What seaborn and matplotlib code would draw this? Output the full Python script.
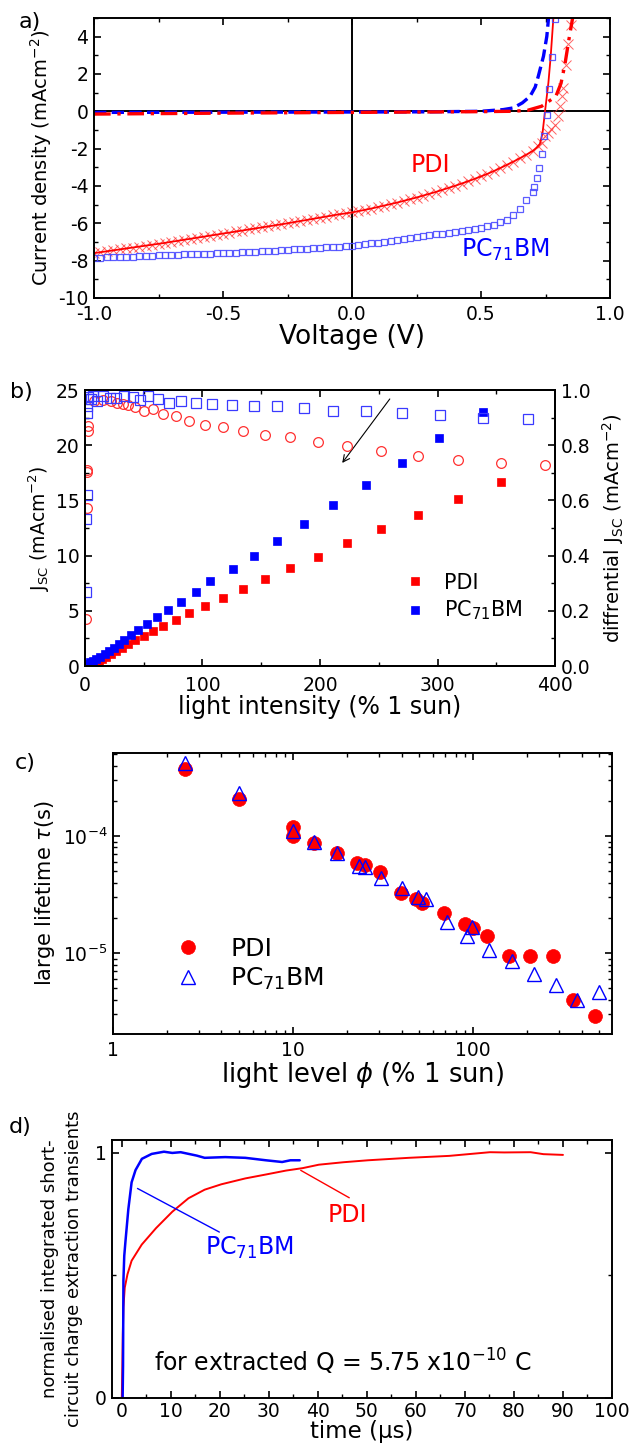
import numpy as np
import pandas as pd
import matplotlib
matplotlib.use("Agg")
import matplotlib.pyplot as plt
import seaborn as sns
from matplotlib.ticker import MultipleLocator, FixedLocator, NullFormatter, FuncFormatter, LogLocator

# ---------------- panel a data ----------------
volt = [-1.000, -0.975, -0.950, -0.925, -0.900, -0.875, -0.850, -0.825, -0.800, -0.775,
        -0.750, -0.725, -0.700, -0.675, -0.650, -0.625, -0.600, -0.575, -0.550, -0.525,
        -0.500, -0.475, -0.450, -0.425, -0.400, -0.375, -0.350, -0.325, -0.300, -0.275,
        -0.250, -0.225, -0.200, -0.175, -0.150, -0.125, -0.100, -0.075, -0.050, -0.025,
        0.000, 0.025, 0.050, 0.075, 0.100, 0.125, 0.150, 0.175, 0.200, 0.225,
        0.250, 0.275, 0.300, 0.325, 0.350, 0.375, 0.400, 0.425, 0.450, 0.475,
        0.500, 0.525, 0.550, 0.575, 0.600, 0.625, 0.650, 0.675, 0.700]
pdi_light = [-7.60, -7.55, -7.50, -7.45, -7.40, -7.35, -7.30, -7.25, -7.20, -7.15,
             -7.10, -7.05, -6.99, -6.94, -6.88, -6.83, -6.77, -6.72, -6.66, -6.61,
             -6.55, -6.50, -6.44, -6.39, -6.33, -6.28, -6.22, -6.17, -6.11, -6.06,
             -6.00, -5.94, -5.88, -5.82, -5.76, -5.70, -5.64, -5.58, -5.52, -5.47,
             -5.42, -5.35, -5.28, -5.21, -5.13, -5.05, -4.97, -4.89, -4.80, -4.71,
             -4.62, -4.52, -4.42, -4.32, -4.21, -4.10, -3.99, -3.87, -3.75, -3.62,
             -3.49, -3.35, -3.20, -3.04, -2.87, -2.70, -2.52, -2.33, -2.13]
pdi_steep_v = [0.720, 0.735, 0.748, 0.760, 0.772, 0.787, 0.800, 0.806, 0.812, 0.819, 0.829, 0.838, 0.848]
pdi_steep_j = [-1.88, -1.70, -1.34, -1.15, -0.95, -0.71, -0.27, 0.27, 0.80, 1.25, 2.50, 3.58, 4.60]
pdi_line_v = [0.715, 0.728, 0.738, 0.748, 0.761, 0.770, 0.780, 0.784]
pdi_line_j = [-1.95, -1.75, -1.20, 0.00, 1.52, 2.95, 4.92, 5.60]
pc_light = [-7.85, -7.84, -7.83, -7.82, -7.81, -7.80, -7.79, -7.77, -7.76, -7.74,
            -7.72, -7.71, -7.70, -7.68, -7.67, -7.66, -7.65, -7.63, -7.62, -7.61,
            -7.60, -7.58, -7.57, -7.55, -7.53, -7.52, -7.50, -7.48, -7.46, -7.44,
            -7.42, -7.40, -7.38, -7.36, -7.34, -7.32, -7.29, -7.27, -7.25, -7.22,
            -7.20, -7.16, -7.12, -7.08, -7.04, -7.00, -6.95, -6.90, -6.85, -6.80,
            -6.75, -6.70, -6.65, -6.60, -6.55, -6.50, -6.45, -6.40, -6.35, -6.30,
            -6.24, -6.16, -6.07, -5.95, -5.80, -5.58, -5.22, -4.75, -4.30]
pc_steep_v = [0.705, 0.716, 0.725, 0.735, 0.744, 0.755, 0.764, 0.774, 0.787]
pc_steep_j = [-4.07, -3.60, -3.03, -2.28, -1.32, -0.19, 1.22, 2.91, 4.95]
pc_dark_v = [-1.0, -0.5, 0.0, 0.3, 0.5, 0.586, 0.625, 0.66, 0.690, 0.710, 0.722, 0.742, 0.755, 0.761, 0.766]
pc_dark_j = [-0.06, -0.05, -0.04, -0.03, 0.00, 0.09, 0.18, 0.45, 0.80, 1.30, 1.88, 2.95, 4.02, 4.91, 5.50]
pdi_dark_v = [-1.0, -0.8, -0.5, 0.0, 0.5, 0.62, 0.68, 0.735, 0.790, 0.810, 0.825, 0.840, 0.855, 0.860]
pdi_dark_j = [-0.15, -0.13, -0.10, -0.06, -0.02, 0.00, 0.05, 0.27, 0.80, 1.50, 2.50, 3.80, 5.00, 5.50]

# ---------------- panel b data ----------------
pdi_int = [354.3, 317.2, 283.3, 252.1, 223.4, 198.1, 174.2, 153.4, 134.4, 117.1, 102.5, 88.7, 77.2,
           66.8, 58.2, 50.2, 42.6, 36.7, 31.2, 26.3, 22.0, 18.0, 14.7, 11.7, 9.2, 7.0]
pdi_jsc = [16.68, 15.17, 13.73, 12.41, 11.12, 9.92, 8.86, 7.87, 7.00, 6.16, 5.45, 4.78, 4.18,
           3.63, 3.17, 2.73, 2.36, 2.00, 1.67, 1.37, 1.08, 0.84, 0.63, 0.45, 0.30, 0.15]
pc_int = [338.7, 301.6, 269.4, 239.0, 211.3, 186.0, 163.8, 143.7, 125.7, 106.5, 94.5, 81.5, 70.7,
          61.0, 52.9, 45.3, 38.9, 33.3, 28.6, 24.4, 20.3, 16.7, 13.1, 9.7, 6.9, 4.2, 1.9]
pc_jsc = [23.00, 20.62, 18.39, 16.44, 14.57, 12.86, 11.36, 9.98, 8.77, 7.67, 6.72, 5.83, 5.10,
          4.45, 3.83, 3.25, 2.80, 2.35, 1.99, 1.66, 1.36, 1.08, 0.84, 0.63, 0.48, 0.33, 0.18]
pdi_dint = [1.0, 1.3, 1.6, 1.8, 2.2, 2.8, 8.0, 15.0, 22.0, 27.0, 32.2, 36.7, 42.6, 50.2, 58.2, 66.8,
            77.2, 88.7, 102.5, 117.1, 134.4, 153.4, 174.2, 198.1, 223.4, 252.1, 283.3, 317.2, 354.3, 391.7]
pdi_diff = [0.172, 0.572, 0.703, 0.710, 0.852, 0.870, 0.960, 0.965, 0.960, 0.955, 0.950, 0.945, 0.938,
            0.925, 0.931, 0.913, 0.905, 0.889, 0.875, 0.868, 0.851, 0.838, 0.829, 0.811, 0.796, 0.779,
            0.763, 0.748, 0.736, 0.730]
pc_dint = [1.0, 1.2, 1.4, 1.6, 1.9, 2.3, 2.8, 5.0, 7.0, 9.9, 15.5, 21.0, 26.8, 33.0, 40.8, 46.5, 53.5,
           62.0, 71.8, 81.7, 94.4, 108.0, 125.0, 143.7, 163.8, 186.0, 211.3, 239.0, 269.5, 302.1, 339.0, 376.8]
pc_diff = [0.268, 0.532, 0.619, 0.916, 0.943, 0.967, 0.975, 0.968, 0.978, 0.960, 0.978, 0.972, 0.972,
           0.978, 0.975, 0.963, 0.978, 0.966, 0.954, 0.960, 0.954, 0.950, 0.946, 0.942, 0.941, 0.934,
           0.925, 0.923, 0.918, 0.909, 0.898, 0.897]

# ---------------- panel c data ----------------
pdi_phi = [2.5, 5.0, 10.0, 10.0, 13.1, 17.5, 22.6, 25.2, 30.2, 39.8, 48.3, 52.1, 68.7, 90.1, 100.0,
           120.0, 158.0, 207.0, 276.0, 358.0, 477.0]
pdi_tau = [3.73e-4, 2.07e-4, 1.20e-4, 1.00e-4, 8.66e-5, 7.20e-5, 5.93e-5, 5.66e-5, 4.90e-5, 3.29e-5,
           2.90e-5, 2.67e-5, 2.19e-5, 1.77e-5, 1.63e-5, 1.41e-5, 9.5e-6, 9.5e-6, 9.5e-6, 4.0e-6, 2.88e-6]
pc_phi = [2.5, 5.0, 10.0, 13.1, 17.5, 23.1, 25.2, 30.6, 40.2, 49.6, 54.4, 71.3, 92.4, 98.6, 123.0,
          164.0, 218.0, 290.0, 377.0, 502.0]
pc_tau = [4.24e-4, 2.34e-4, 1.11e-4, 8.95e-5, 7.20e-5, 5.58e-5, 5.48e-5, 4.35e-5, 3.58e-5, 3.04e-5,
          2.88e-5, 1.86e-5, 1.41e-5, 1.69e-5, 1.07e-5, 8.5e-6, 6.62e-6, 5.37e-6, 4.0e-6, 4.66e-6]

# ---------------- panel d data ----------------
pdi_t = [0.0, 0.1, 0.2, 0.33, 0.6, 1.16, 2.0, 4.07, 6.98, 10.3, 13.6, 16.9, 20.3, 25.2, 29.4, 33.5,
         36.9, 40.2, 45.2, 50.2, 58.5, 66.8, 75.1, 78.0, 83.4, 86.0, 90.0]
pdi_q = [0.0, 0.12, 0.26, 0.37, 0.45, 0.505, 0.56, 0.626, 0.693, 0.76, 0.815, 0.850, 0.872, 0.896,
         0.912, 0.928, 0.938, 0.952, 0.962, 0.970, 0.980, 0.988, 1.003, 1.002, 1.003, 0.995, 0.992]
pc_t = [0.17, 0.25, 0.33, 0.5, 0.75, 1.33, 2.0, 2.8, 4.1, 6.1, 8.6, 10.3, 12.0, 15.3, 16.9, 21.1,
        25.2, 29.4, 32.7, 34.4, 36.3]
pc_q = [0.0, 0.13, 0.48, 0.58, 0.64, 0.77, 0.88, 0.93, 0.976, 0.996, 1.005, 1.0, 1.003, 0.989, 0.98,
        0.983, 0.98, 0.97, 0.963, 0.97, 0.97]

RED = "#ff0000"
BLUE = "#0000ff"

sns.set_theme(style="ticks")
plt.rcParams['font.family'] = ['DejaVu Sans']
plt.rcParams['mathtext.fontset'] = 'dejavusans'
plt.rcParams.update({
    "axes.unicode_minus": False,
    "axes.linewidth": 1.4,
    "axes.edgecolor": "black",
    "xtick.direction": "in", "ytick.direction": "in",
    "xtick.major.size": 5, "ytick.major.size": 5,
    "xtick.minor.size": 3, "ytick.minor.size": 3,
    "xtick.major.width": 1.2, "ytick.major.width": 1.2,
    "xtick.minor.width": 1.0, "ytick.minor.width": 1.0,
    "xtick.labelsize": 13.5, "ytick.labelsize": 13.5,
    "xtick.major.pad": 5, "ytick.major.pad": 4,
    "xtick.color": "black", "ytick.color": "black",
    "axes.labelcolor": "black", "text.color": "black",
})


def style(ax, right=True):
    ax.tick_params(which="both", top=True, right=right, direction="in")
    for s in ax.spines.values():
        s.set_visible(True)
        s.set_color("black")
        s.set_linewidth(1.4)


def marks(ax, x, y, marker, ms, mfc, mec, mew=1.0, alpha=1.0, label=None):
    sns.lineplot(x=x, y=y, ax=ax, estimator=None, sort=False, linestyle="none", marker=marker,
                 markersize=ms, markerfacecolor=mfc, markeredgecolor=mec, markeredgewidth=mew,
                 alpha=alpha, color=mec, label=label, legend=False)
    return ax.get_lines()[-1]


def curve(ax, x, y, color, lw, ls="-"):
    sns.lineplot(x=x, y=y, ax=ax, estimator=None, sort=False, color=color, linewidth=lw,
                 linestyle=ls, legend=False)


fig = plt.figure(figsize=(6.4, 14.47), dpi=100)

# ================= panel a =================
axA = fig.add_axes([0.1469, 0.7941, 0.8063, 0.1935])
axA.axhline(0, color="black", lw=1.4, zorder=1)
axA.axvline(0, color="black", lw=1.4, zorder=1)
marks(axA, volt + pdi_steep_v, pdi_light + pdi_steep_j, "x", 6.5, "none", "#ff3b3b", mew=0.7, alpha=0.8)
curve(axA, volt + pdi_line_v, pdi_light + pdi_line_j, RED, 1.3)
marks(axA, volt + pc_steep_v, pc_light + pc_steep_j, "s", 5, "none", "#4a4aff", mew=0.9, alpha=0.9)
curve(axA, pc_dark_v, pc_dark_j, BLUE, 2.4, "--")
curve(axA, pdi_dark_v, pdi_dark_j, RED, 2.4, (0, (5, 2, 1, 2)))
axA.set_xlim(-1, 1)
axA.set_ylim(-10, 5)
axA.xaxis.set_major_locator(MultipleLocator(0.5))
axA.xaxis.set_minor_locator(MultipleLocator(0.25))
axA.yaxis.set_major_locator(FixedLocator([-10, -8, -6, -4, -2, 0, 2, 4]))
axA.yaxis.set_minor_locator(MultipleLocator(1))
axA.xaxis.set_major_formatter(FuncFormatter(lambda v, p: f"{v:.1f}"))
axA.set_xlabel("Voltage (V)", fontsize=19, labelpad=0)
axA.set_ylabel("Current density (mAcm$^{-2}$)", fontsize=14, labelpad=3)
axA.text(0.305, -2.9, "PDI", color=RED, fontsize=17, ha="center", va="center")
axA.text(0.594, -7.4, "PC$_{71}$BM", color=BLUE, fontsize=17, ha="center", va="center")
style(axA)
fig.text(0.047, 0.985, "a)", fontsize=16, ha="center", va="center")

# ================= panel b =================
axB = fig.add_axes([0.1328, 0.5397, 0.7344, 0.1907])
axB2 = axB.twinx()
hp = marks(axB, pdi_int, pdi_jsc, "s", 6, RED, RED, mew=0.5, label="PDI")
hb = marks(axB, pc_int, pc_jsc, "s", 6, BLUE, BLUE, mew=0.5, label="PC$_{71}$BM")
marks(axB2, pdi_dint, pdi_diff, "o", 7, "none", "#ff3030", mew=0.9)
marks(axB2, pc_dint, pc_diff, "s", 6.5, "none", "#3a3aff", mew=0.9)
axB.set_xlim(0, 400)
axB.set_ylim(0, 25)
axB2.set_ylim(0, 1)
axB.xaxis.set_major_locator(MultipleLocator(100))
axB.xaxis.set_minor_locator(MultipleLocator(50))
axB.yaxis.set_major_locator(MultipleLocator(5))
axB.yaxis.set_minor_locator(MultipleLocator(2.5))
axB2.yaxis.set_major_locator(MultipleLocator(0.2))
axB2.yaxis.set_minor_locator(MultipleLocator(0.1))
axB2.yaxis.set_major_formatter(FuncFormatter(lambda v, p: f"{v:.1f}"))
axB.tick_params(which="both", top=True, right=False, direction="in")
axB.tick_params(axis="x", pad=7)
axB2.tick_params(which="both", right=True, left=False, direction="in")
for s in axB.spines.values():
    s.set_linewidth(1.4); s.set_color("black")
for s in axB2.spines.values():
    s.set_linewidth(1.4); s.set_color("black")
axB.set_xlabel("light intensity (% 1 sun)", fontsize=17, labelpad=0)
axB.set_ylabel("J$_{\\mathregular{SC}}$ (mAcm$^{-2}$)", fontsize=13.5, labelpad=3)
axB2.set_ylabel("diffrential J$_{\\mathregular{SC}}$ (mAcm$^{-2}$)", fontsize=14, labelpad=7)
axB.annotate("", xy=(217.5, 18.2), xytext=(260.8, 24.4),
             arrowprops=dict(arrowstyle="->", color="black", lw=0.8))
axB.legend(handles=[hp, hb], loc="lower left", bbox_to_anchor=(0.64, 0.09), frameon=False,
           fontsize=15, handletextpad=0.9, labelspacing=0.3, handlelength=1.0)
fig.text(0.034, 0.729, "b)", fontsize=16, ha="center", va="center")

# ================= panel c =================
axC = fig.add_axes([0.1766, 0.2854, 0.7797, 0.1942])
hc1 = marks(axC, pdi_phi, pdi_tau, "o", 10, RED, RED, mew=0.5, label="PDI")
hc2 = marks(axC, pc_phi, pc_tau, "^", 10, "none", BLUE, mew=1.0, label="PC$_{71}$BM")
axC.set_xscale("log")
axC.set_yscale("log")
axC.set_xlim(1, 590)
axC.set_ylim(2.04e-6, 5.13e-4)
axC.xaxis.set_major_locator(FixedLocator([1, 10, 100]))
axC.xaxis.set_major_formatter(FuncFormatter(lambda v, p: f"{v:g}"))
axC.xaxis.set_minor_locator(LogLocator(base=10, subs=np.arange(2, 10)))
axC.xaxis.set_minor_formatter(NullFormatter())
axC.yaxis.set_major_locator(FixedLocator([1e-5, 1e-4]))
axC.yaxis.set_minor_locator(LogLocator(base=10, subs=np.arange(2, 10)))
axC.yaxis.set_minor_formatter(NullFormatter())
style(axC)
axC.set_xlabel("light level $\\phi$ (% 1 sun)", fontsize=18.5, labelpad=0)
axC.set_ylabel("large lifetime $\\tau$(s)", fontsize=15, labelpad=4)
axC.legend(handles=[hc1, hc2], loc="lower left", bbox_to_anchor=(0.08, 0.07), frameon=False,
           fontsize=18, handletextpad=1.2, labelspacing=0.2, handlelength=1.0)
fig.text(0.039, 0.473, "c)", fontsize=16, ha="center", va="center")

# ================= panel d =================
axD = fig.add_axes([0.175, 0.0339, 0.78125, 0.1783])
curve(axD, pdi_t, pdi_q, RED, 1.4)
curve(axD, pc_t, pc_q, BLUE, 1.8)
axD.set_xlim(-2, 100)
axD.set_ylim(0, 1.053)
axD.xaxis.set_major_locator(MultipleLocator(10))
axD.xaxis.set_minor_locator(MultipleLocator(5))
axD.yaxis.set_major_locator(FixedLocator([0, 1]))
axD.yaxis.set_minor_locator(FixedLocator([0.5]))
axD.yaxis.set_major_formatter(FuncFormatter(lambda v, p: f"{v:g}"))
style(axD)
axD.tick_params(axis="x", pad=3)
axD.set_xlabel("time (\u03bcs)", fontsize=16.5, labelpad=-1)
axD.set_ylabel("normalised integrated short-\ncircuit charge extraction transients",
               fontsize=13, labelpad=8, linespacing=1.45)
axD.annotate("", xy=(36.5, 0.929), xytext=(46.4, 0.817),
             arrowprops=dict(arrowstyle="-", color=RED, lw=1.0, shrinkA=0, shrinkB=0))
axD.text(46.0, 0.747, "PDI", color=RED, fontsize=17, ha="center", va="center")
axD.annotate("", xy=(3.2, 0.855), xytext=(19.9, 0.677),
             arrowprops=dict(arrowstyle="-", color=BLUE, lw=1.0, shrinkA=0, shrinkB=0))
axD.text(26.0, 0.612, "PC$_{71}$BM", color=BLUE, fontsize=17, ha="center", va="center")
axD.text(6.6, 0.148, "for extracted Q = 5.75 x10$^{-10}$ C", fontsize=17, ha="left", va="center")
fig.text(0.031, 0.221, "d)", fontsize=16, ha="center", va="center")

fig.savefig("out.png", dpi=100)
